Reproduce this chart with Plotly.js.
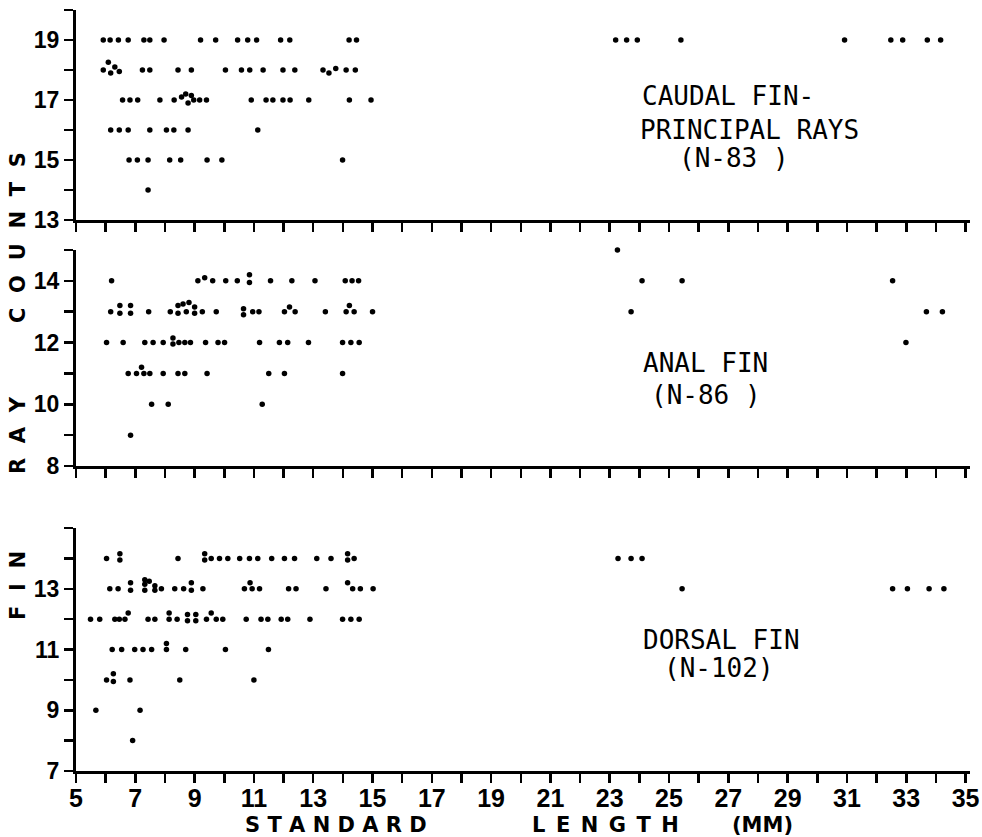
<!DOCTYPE html>
<html>
<head>
<meta charset="utf-8">
<script src="https://cdn.plot.ly/plotly-3.0.1.min.js"></script>
<style>html,body{margin:0;padding:0;background:#fff;}#chart{width:982px;height:837px;}</style>
</head>
<body>
<div id="chart"></div>
<script>
// ---- Caudal fin principal rays (N-83): standard length (mm) and ray count, read row by row
const caudalX = [
  5.92, 6.15, 6.43, 6.76, 7.29, 7.49, 7.97, 9.20, 9.71, 10.45, 10.79, 11.09, 11.90, 12.21, 14.21, 14.46, 23.20, 23.57, 23.93, 25.40, 30.92, 32.48, 32.88, 33.71, 34.16,
  5.92, 6.09, 6.17, 6.31, 6.46, 7.24, 7.49, 8.44, 8.89, 10.04, 10.58, 10.86, 11.31, 11.98, 12.38, 13.33, 13.53, 13.76, 14.11, 14.42,
  6.57, 6.82, 7.08, 7.83, 8.31, 8.56, 8.70, 8.78, 8.89, 8.97, 9.17, 9.40, 10.91, 11.41, 11.64, 11.98, 12.22, 12.85, 14.22, 14.95,
  6.17, 6.46, 6.76, 7.49, 8.05, 8.30, 8.78, 11.13,
  6.79, 7.07, 7.43, 8.16, 8.53, 9.42, 9.92, 13.99,
  7.43
];
const caudalY = [
  19, 19, 19, 19, 19, 19, 19, 19, 19, 19, 19, 19, 19, 19, 19, 19, 19, 19, 19, 19, 19, 19, 19, 19, 19,
  18, 18.26, 17.9, 18.1, 17.95, 18, 18, 18, 18, 18, 18, 18, 18, 18, 18, 18, 17.9, 18.05, 18, 18,
  17, 17, 17, 17, 17, 17.1, 17.2, 16.9, 17.15, 17, 17, 17, 17, 17, 17, 17, 17, 17, 17, 17,
  16, 16, 16, 16, 16, 16, 16, 16,
  15, 15, 15, 15, 15, 15, 15, 15,
  14
];

// ---- Anal fin (N-86)
const analX = [
  23.26,
  6.20, 9.11, 9.34, 9.61, 10.05, 10.44, 10.85, 10.85, 11.56, 12.28, 13.06, 14.08, 14.31, 14.53, 24.09, 25.44, 32.54,
  6.17, 6.48, 6.48, 6.84, 6.84, 7.45, 8.18, 8.44, 8.44, 8.61, 8.72, 8.81, 9.00, 9.00, 9.26, 9.73, 10.65, 10.65, 10.96, 11.17, 12.03, 12.20, 12.39, 13.41, 14.11, 14.22, 14.38, 15.00, 23.72, 33.68, 34.22,
  6.03, 6.59, 7.32, 7.60, 7.94, 8.27, 8.27, 8.47, 8.67, 8.86, 9.37, 9.79, 10.01, 11.19, 11.86, 12.14, 12.84, 13.99, 14.27, 14.55, 32.99,
  6.76, 7.04, 7.21, 7.29, 7.49, 7.94, 8.44, 8.67, 9.42, 11.50, 12.03, 13.99,
  7.55, 8.11, 11.28,
  6.84
];
const analY = [
  15,
  14, 14, 14.1, 14, 14, 14, 14.2, 13.95, 14, 14, 14, 14, 14, 14, 14, 14, 14,
  13, 13.2, 12.95, 13.2, 12.95, 13, 13, 13.2, 12.95, 13.25, 13, 13.3, 13.15, 12.95, 13, 13, 13.1, 12.9, 13, 13, 13, 13.15, 13, 13, 13, 13.2, 13, 13, 13, 13, 13,
  12, 12, 12, 12, 12, 12.15, 11.95, 12, 12, 12, 12, 12, 12, 12, 12, 12, 12, 12, 12, 12, 12,
  11, 11, 11.2, 11, 11, 11, 11, 11, 11, 11, 11, 11,
  10, 10, 10,
  9
];

// ---- Dorsal fin (N-102)
const dorsalX = [
  6.03, 6.48, 6.48, 8.44, 9.34, 9.34, 9.56, 9.84, 10.12, 10.52, 10.85, 11.13, 11.60, 12.03, 12.37, 13.12, 13.60, 14.16, 14.16, 14.38, 23.28, 23.72, 24.09,
  6.14, 6.42, 6.84, 6.84, 7.32, 7.32, 7.32, 7.47, 7.66, 7.66, 7.88, 8.33, 8.63, 8.89, 8.89, 9.28, 10.68, 10.87, 10.94, 11.19, 12.17, 12.42, 13.43, 14.16, 14.33, 14.59, 15.02, 25.44, 32.54, 33.04, 33.77, 34.27,
  5.49, 5.80, 6.31, 6.46, 6.65, 6.76, 7.43, 7.66, 8.14, 8.14, 8.41, 8.76, 8.76, 9.04, 9.04, 9.40, 9.56, 9.73, 9.95, 10.74, 11.24, 11.47, 11.92, 12.14, 12.89, 13.99, 14.27, 14.55,
  6.22, 6.54, 6.98, 7.26, 7.55, 8.05, 8.05, 8.70, 10.04, 11.49,
  6.03, 6.26, 6.26, 6.82, 8.50, 11.00,
  5.67, 7.16,
  6.91
];
const dorsalY = [
  14, 14.15, 13.95, 14, 14.15, 13.95, 14, 14, 14, 14, 14, 14, 14, 14, 14, 14, 14, 14.15, 13.95, 14, 14, 14, 14,
  13, 13, 13.2, 12.95, 13.3, 13.15, 12.95, 13.25, 13.1, 12.95, 13, 13, 13, 13.2, 12.95, 13, 13, 13.2, 13, 13, 13, 13, 13, 13.2, 13, 13, 13, 13, 13, 13, 13, 13,
  12, 12, 12, 12, 12, 12.2, 12, 12, 12.2, 12, 12, 12.15, 11.95, 12.15, 11.95, 12, 12.2, 12, 12, 12, 12, 12, 12, 12, 12, 12, 12, 12,
  11, 11, 11, 11, 11, 11.2, 11, 11, 11, 11,
  10, 10.2, 9.95, 10, 10, 10,
  9, 9,
  8
];

// ---- tick labels
const lengthTicks = [5, 7, 9, 11, 13, 15, 17, 19, 21, 23, 25, 27, 29, 31, 33, 35];
const caudalTicks = [13, 15, 17, 19];
const analTicks = [8, 10, 12, 14];
const dorsalTicks = [7, 9, 11, 13];

const panelTitles = ['CAUDAL FIN-', 'PRINCIPAL RAYS', '(N-83 )', 'ANAL FIN', '(N-86 )', 'DORSAL FIN', '(N-102)'];
const yTitleWords = ['F\u2002\u2009I\u2002\u2009N', 'R\u2002\u2009A\u2002\u2009Y', 'C\u2002\u2009O\u2002\u2009U\u2002\u2009N\u2002\u2009T\u2002\u2009S'];
const xTitleWords = ['S T A N D A R D', 'L\u2002E\u2002N\u2002G\u2002T\u2002H', '(MM)'];

const tickFam = 'Liberation Sans, Arial, sans-serif';
const tickFont = {family: tickFam, size: 25, color: 'black', weight: 'bold'};
const yTickFont = {family: tickFam, size: 23, color: 'black', weight: 'bold'};
const labelFont = {family: 'DejaVu Sans Mono, Liberation Mono, monospace', size: 26, color: 'black'};
const titleFont = {family: 'DejaVu Sans, sans-serif', size: 21, color: 'black', weight: 'bold'};

const marker = {size: 5.5, color: 'black'};
const traces = [
  {x: dorsalX, y: dorsalY, xaxis: 'x', yaxis: 'y', type: 'scatter', mode: 'markers', marker: marker, cliponaxis: false, hoverinfo: 'x+y'},
  {x: analX, y: analY, xaxis: 'x2', yaxis: 'y2', type: 'scatter', mode: 'markers', marker: marker, cliponaxis: false, hoverinfo: 'x+y'},
  {x: caudalX, y: caudalY, xaxis: 'x3', yaxis: 'y3', type: 'scatter', mode: 'markers', marker: marker, cliponaxis: false, hoverinfo: 'x+y'}
];

function xAxis(anchor, labels) {
  return {
    anchor: anchor, domain: [0, 1], range: [5, 35.15],
    tickmode: 'array', tickvals: lengthTicks, ticktext: lengthTicks.map(String),
    ticks: 'outside', ticklen: 9, tickwidth: 2.5, tickcolor: 'black',
    showticklabels: labels, tickfont: tickFont, ticklabelstandoff: -6,
    showline: true, linewidth: 3, linecolor: 'black',
    showgrid: false, zeroline: false, fixedrange: true,
    minor: {tick0: 5, dtick: 1, ticks: 'outside', ticklen: 9, tickwidth: 2.5, tickcolor: 'black', showgrid: false}
  };
}
function yAxis(domain, range, vals, anchor) {
  return {
    anchor: anchor, domain: domain, range: range,
    tickmode: 'array', tickvals: vals, ticktext: vals.map(String),
    ticks: 'outside', ticklen: 9, tickwidth: 2.5, tickcolor: 'black',
    tickfont: yTickFont, showline: true, linewidth: 3, linecolor: 'black',
    showgrid: false, zeroline: false, fixedrange: true,
    minor: {tick0: range[0], dtick: 1, ticks: 'outside', ticklen: 9, tickwidth: 2.5, tickcolor: 'black', showgrid: false}
  };
}

const annotations = [
  {xref: 'x3', yref: 'y3', x: 27.0, y: 17.13, text: panelTitles[0]},
  {xref: 'x3', yref: 'y3', x: 27.7, y: 16.0, text: panelTitles[1]},
  {xref: 'x3', yref: 'y3', x: 27.2, y: 15.07, text: panelTitles[2]},
  {xref: 'x2', yref: 'y2', x: 26.24, y: 11.33, text: panelTitles[3]},
  {xref: 'x2', yref: 'y2', x: 26.26, y: 10.31, text: panelTitles[4]},
  {xref: 'x', yref: 'y', x: 26.76, y: 11.3, text: panelTitles[5]},
  {xref: 'x', yref: 'y', x: 26.7, y: 10.38, text: panelTitles[6]}
].map(a => Object.assign({showarrow: false, xanchor: 'center', yanchor: 'middle', font: labelFont}, a));

const yTitleY = [0.2444, 0.4415, 0.7017];
yTitleWords.forEach((w, i) => annotations.push({
  xref: 'paper', yref: 'paper', x: -0.0649, y: yTitleY[i], text: w, textangle: -90,
  showarrow: false, xanchor: 'center', yanchor: 'middle', font: titleFont
}));
const xTitleX = [13.76, 22.85, 28.15];
xTitleWords.forEach((w, i) => annotations.push({
  xref: 'x', yref: 'paper', x: xTitleX[i], y: -0.0710, text: w,
  showarrow: false, xanchor: 'center', yanchor: 'middle', font: Object.assign({}, titleFont, {size: 21})
}));

const layout = {
  width: 982, height: 837,
  margin: {l: 76, r: 12, t: 10, b: 66, pad: 0},
  paper_bgcolor: 'white', plot_bgcolor: 'white',
  showlegend: false,
  font: {family: 'DejaVu Sans, sans-serif', color: 'black'},
  xaxis: xAxis('y', true),
  xaxis2: Object.assign(xAxis('y2', false), {matches: 'x'}),
  xaxis3: Object.assign(xAxis('y3', false), {matches: 'x'}),
  yaxis: yAxis([0, 0.3193], [7, 15], dorsalTicks, 'x'),
  yaxis2: yAxis([0.4008, 0.6846], [8, 15], analTicks, 'x2'),
  yaxis3: yAxis([0.7241, 1], [13, 20], caudalTicks, 'x3'),
  annotations: annotations
};

Plotly.newPlot('chart', traces, layout, {displayModeBar: false, staticPlot: true});
</script>
</body>
</html>
